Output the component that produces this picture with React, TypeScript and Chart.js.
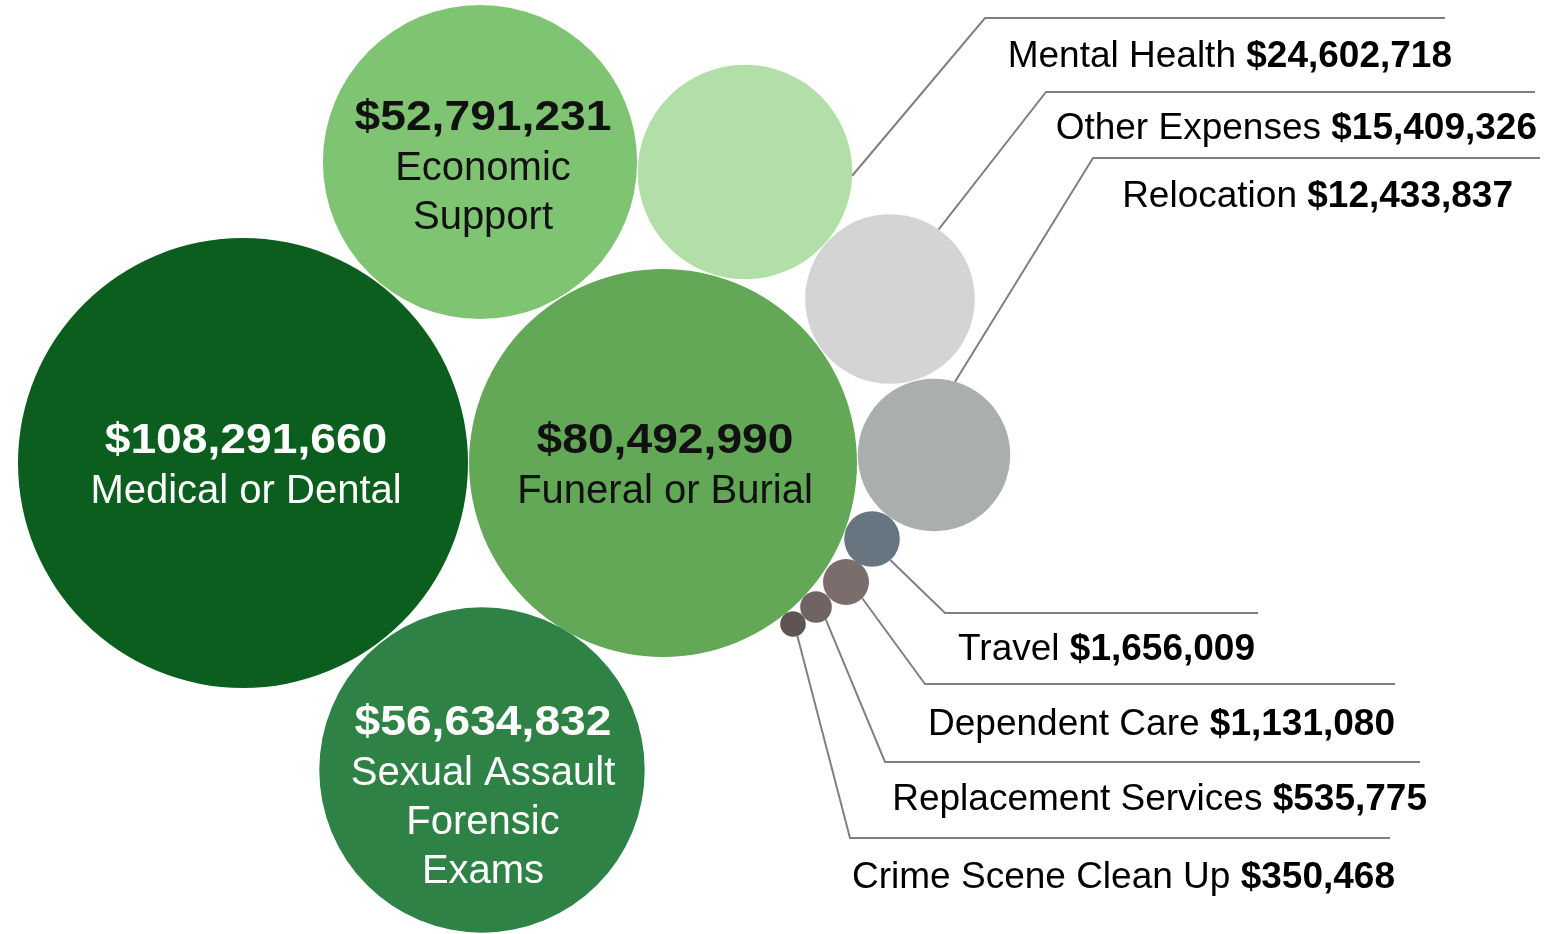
import React, { useEffect, useRef } from "react";
import { Chart, registerables } from "chart.js";

Chart.register(...registerables);

// ---- data ----
const categories = [
  "Medical or Dental",
  "Funeral or Burial",
  "Sexual Assault Forensic Exams",
  "Economic Support",
  "Mental Health",
  "Other Expenses",
  "Relocation",
  "Travel",
  "Dependent Care",
  "Replacement Services",
  "Crime Scene Clean Up",
];
const amounts = [
  108291660, 80492990, 56634832, 52791231, 24602718, 15409326, 12433837,
  1656009, 1131080, 535775, 350468,
];
// packed-bubble layout positions (abstract layout units)
const xPos = [243, 663, 482, 480, 745, 890, 934, 872, 846, 816, 793];
const yPos = [463, 463, 770, 162, 172, 299, 455, 539, 582, 607, 624];

// ---- styles ----
const colors = [
  "#0b5e1e",
  "#62a856",
  "#2f8245",
  "#7fc472",
  "#b1dfa7",
  "#d4d4d4",
  "#a9aeae",
  "#66757f",
  "#7b6d6b",
  "#6f6462",
  "#5e5552",
];
const MAX_R = 225;

// inner labels: index -> lines of name, text color, value offset
const innerLabels = [
  { index: 0, lines: ["Medical or Dental"], color: "#ffffff", top: -22, dx: 3 },
  { index: 1, lines: ["Funeral or Burial"], color: "#111111", top: -22, dx: 2 },
  { index: 2, lines: ["Sexual Assault", "Forensic", "Exams"], color: "#ffffff", top: -47, dx: 1 },
  { index: 3, lines: ["Economic", "Support"], color: "#111111", top: -44, dx: 3 },
];

// callouts: leader line anchor angle (deg), elbow, horizontal end, text position
const callouts = [
  { index: 4, angle: 2, ex: 985, ey: 18, endX: 1445, textRight: 1452, textY: 57 },
  { index: 5, angle: -55, ex: 1046, ey: 92, endX: 1535, textRight: 1537, textY: 129 },
  { index: 6, angle: -74, ex: 1093, ey: 158, endX: 1540, textRight: 1513, textY: 197 },
  { index: 7, angle: 49, ex: 945, ey: 613, endX: 1258, textRight: 1255, textY: 650 },
  { index: 8, angle: 45, ex: 925, ey: 684, endX: 1395, textRight: 1395, textY: 725 },
  { index: 9, angle: 52, ex: 885, ey: 762, endX: 1420, textRight: 1427, textY: 800 },
  { index: 10, angle: 70, ex: 850, ey: 838, endX: 1390, textRight: 1395, textY: 878 },
];

const FONT = '"Liberation Sans", Arial, sans-serif';
const fmt = (v: number) => "$" + v.toLocaleString("en-US");

const labelPlugin = {
  id: "bubbleLabels",
  afterDatasetsDraw(chart: any) {
    const ctx = chart.ctx as CanvasRenderingContext2D;
    const meta = chart.getDatasetMeta(0);
    const sx = chart.scales.x;
    const sy = chart.scales.y;
    ctx.save();
    ctx.textAlign = "center";
    ctx.textBaseline = "middle";
    for (const lab of innerLabels) {
      const el = meta.data[lab.index];
      const cx = el.x + lab.dx;
      const cy = el.y;
      ctx.fillStyle = lab.color;
      ctx.font = `bold 42px ${FONT}`;
      ctx.save();
      ctx.translate(cx, cy + lab.top);
      ctx.scale(1.1, 1);
      ctx.fillText(fmt(amounts[lab.index]), 0, 0);
      ctx.restore();
      ctx.font = `40px ${FONT}`;
      lab.lines.forEach((ln, k) => {
        ctx.fillText(ln, cx, cy + lab.top + 51 + k * 49);
      });
    }
    // callouts
    ctx.strokeStyle = "#808080";
    ctx.lineWidth = 2;
    for (const c of callouts) {
      const el = meta.data[c.index];
      const r = el.options.radius;
      const a = (c.angle * Math.PI) / 180;
      const ax = el.x + Math.cos(a) * r;
      const ay = el.y + Math.sin(a) * r;
      const ex = sx.getPixelForValue(c.ex);
      const ey = sy.getPixelForValue(c.ey);
      const endX = sx.getPixelForValue(c.endX);
      ctx.beginPath();
      ctx.moveTo(ax, ay);
      ctx.lineTo(ex, ey);
      ctx.lineTo(endX, ey);
      ctx.stroke();
      const tr = sx.getPixelForValue(c.textRight);
      const ty = sy.getPixelForValue(c.textY);
      ctx.fillStyle = "#000000";
      ctx.textAlign = "right";
      ctx.font = `bold 37px ${FONT}`;
      const val = fmt(amounts[c.index]);
      const vw = ctx.measureText(val).width;
      ctx.fillText(val, tr, ty);
      ctx.font = `37px ${FONT}`;
      ctx.fillText(categories[c.index] + " ", tr - vw, ty);
    }
    ctx.restore();
  },
};

export default function App() {
  const ref = useRef<HTMLCanvasElement | null>(null);
  useEffect(() => {
    if (!ref.current) return;
    const maxV = Math.max(...amounts);
    const points = amounts.map((v, i) => ({
      x: xPos[i],
      y: yPos[i],
      r: MAX_R * Math.sqrt(v / maxV),
    }));
    const chart = new Chart(ref.current, {
      type: "bubble",
      data: {
        labels: categories,
        datasets: [
          {
            data: points,
            backgroundColor: colors,
            hoverBackgroundColor: colors,
            borderWidth: 0,
            hoverBorderWidth: 0,
            hoverRadius: 0,
            clip: false,
          } as any,
        ],
      },
      options: {
        responsive: false,
        animation: false,
        events: [],
        layout: { padding: 0, autoPadding: false },
        plugins: { legend: { display: false }, tooltip: { enabled: false } },
        scales: {
          x: { type: "linear", min: 0, max: 1548, display: false },
          y: { type: "linear", min: 0, max: 934, reverse: true, display: false },
        },
      },
      plugins: [labelPlugin],
    });
    return () => chart.destroy();
  }, []);
  return (
    <div style={{ position: "absolute", left: 0, top: 0, width: 1548, height: 934, background: "#fff" }}>
      <canvas ref={ref} width={1548} height={934} />
    </div>
  );
}
